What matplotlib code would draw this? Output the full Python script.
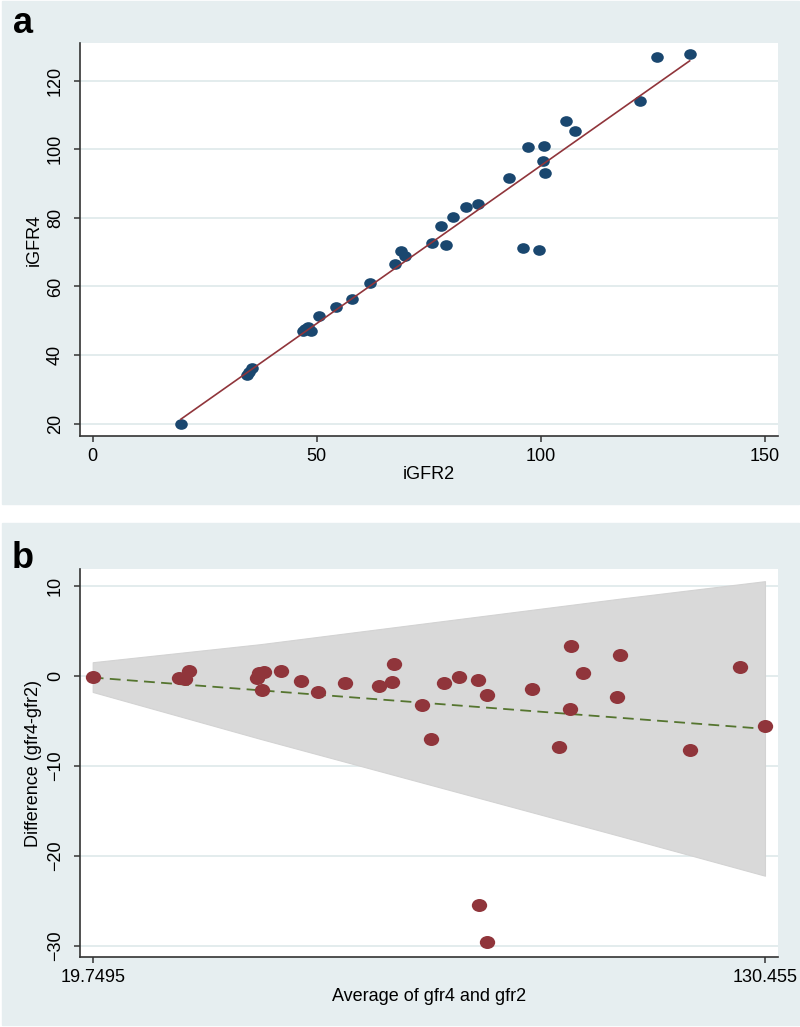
import numpy as np
import matplotlib
matplotlib.use('Agg')
import matplotlib.pyplot as plt
from matplotlib.patches import Rectangle
from matplotlib.path import Path

plt.rcParams['font.family'] = ['Liberation Sans', 'DejaVu Sans']

# panel a: iGFR2 vs iGFR4
igfr2 = [19.7, 34.4, 35.0, 35.5, 46.9, 47.3, 48.1, 48.8, 50.6, 54.4, 57.9,
         61.9, 67.4, 68.7, 69.6, 75.8, 78.9, 77.8, 80.3, 83.3, 85.9, 92.8,
         96.0, 99.5, 97.1, 100.6, 100.4, 100.9, 105.7, 107.6, 122.2, 125.8, 133.2]
igfr4 = [20.0, 34.3, 35.0, 36.3, 46.9, 47.6, 48.3, 47.0, 51.5, 54.1, 56.4,
         61.1, 66.6, 70.3, 69.0, 72.8, 72.1, 77.6, 80.3, 83.3, 84.0, 91.6,
         71.3, 70.5, 100.6, 101.0, 96.7, 93.0, 108.2, 105.4, 114.2, 127.0, 127.8]
fit_x = [19.7, 133.2]
fit_y = [21.3, 125.8]

# panel b: Bland-Altman
avg = [19.75, 33.9, 34.9, 35.6, 46.75, 47.1, 48.0, 47.7, 50.75, 54.0, 56.9,
       61.3, 66.9, 69.1, 69.4, 73.9, 75.4, 77.6, 80.1, 83.25, 84.7, 83.4,
       84.6, 92.05, 96.6, 98.56, 100.5, 98.3, 106.6, 106.1, 118.05, 126.4, 130.4]
diff = [-0.1, -0.3, -0.4, 0.56, -0.3, 0.27, 0.44, -1.6, 0.56, -0.59, -1.85,
        -0.85, -1.14, -0.73, 1.3, -3.26, -7.0, -0.85, -0.14, -0.48, -2.14, -25.4,
        -29.6, -1.44, -7.96, 3.26, 0.26, -3.7, 2.26, -2.33, -8.3, 1.0, -5.6]
trend_x = [19.7495, 130.455]
trend_y = [-0.2, -5.9]
band_x = [19.7495, 47.3, 106.6, 130.455]
band_hi = [1.5, 3.5, 8.56, 10.5]
band_lo = [-1.8, -7.0, -17.8, -22.2]
b_xticks = [19.7495, 130.455]
b_xticklabels = ['19.7495', '130.455']

bg = '#e6eef0'
gridc = '#e0eaec'
navy = '#1a476f'
maroon = '#90353b'
green = '#55752f'

# slightly wide dots like the original
circ = Path.unit_circle()
dot = Path(circ.vertices * [1.18, 1.0], circ.codes)

W, H = 800, 1027
fig = plt.figure(figsize=(W / 100, H / 100), dpi=100)
fig.patch.set_facecolor('white')
fig.patches.append(Rectangle((2 / W, 1 - 504 / H), 797 / W, 503 / H,
                             transform=fig.transFigure, color=bg, zorder=-1))
fig.patches.append(Rectangle((2 / W, 1 - 1025 / H), 797 / W, 502 / H,
                             transform=fig.transFigure, color=bg, zorder=-1))

ax1 = fig.add_axes([80 / W, 1 - 436 / H, 698 / W, 393 / H])
ax2 = fig.add_axes([80 / W, 1 - 957.3 / H, 698 / W, 388.3 / H])

for ax in (ax1, ax2):
    ax.set_facecolor('white')
    for s in ('top', 'right'):
        ax.spines[s].set_visible(False)
    for s in ('left', 'bottom'):
        ax.spines[s].set_color('#333333')
        ax.spines[s].set_linewidth(1.2)
    ax.tick_params(axis='both', direction='out', length=4.5, width=1.1,
                   color='#333333', labelsize=13)
    ax.tick_params(axis='y', pad=7, labelrotation=90)
    ax.tick_params(axis='x', pad=4)
    ax.grid(axis='y', color=gridc, lw=1.3, zorder=0)
    ax.set_axisbelow(True)

# --- panel a
ax1.scatter(igfr2, igfr4, s=82, marker=dot, color=navy, linewidths=0, zorder=3)
ax1.plot(fit_x, fit_y, color=maroon, lw=1.2, zorder=4)
ax1.set_xlim(-2.8, 152.9)
ax1.set_ylim(16.4, 131)
ax1.set_xticks([0, 50, 100, 150])
ax1.set_yticks([20, 40, 60, 80, 100, 120])
ax1.set_xlabel('iGFR2', fontsize=13)
ax1.set_ylabel('iGFR4', fontsize=13)
ax1.xaxis.set_label_coords(0.5, -0.099)
ax1.yaxis.set_label_coords(-0.066, 0.5)

# --- panel b
ax2.fill_between(band_x, band_lo, band_hi, color='#d9d9d9', lw=0.8,
                 edgecolor='#d3d3d3', zorder=1)
ax2.plot(trend_x, trend_y, color=green, lw=1.3, linestyle=(0, (6, 3.5)), zorder=2)
ax2.scatter(avg, diff, s=122, marker=dot, color=maroon, linewidths=0, zorder=3)
ax2.set_xlim(17.66, 132.6)
ax2.set_ylim(-31.26, 11.85)
ax2.set_xticks(b_xticks)
ax2.set_xticklabels(b_xticklabels)
ax2.set_yticks([10, 0, -10, -20, -30])
ax2.set_xlabel('Average of gfr4 and gfr2', fontsize=13)
ax2.set_ylabel('Difference (gfr4-gfr2)', fontsize=13)
ax2.xaxis.set_label_coords(0.5, -0.102)
ax2.yaxis.set_label_coords(-0.067, 0.5)

for ax in (ax1, ax2):
    ax.xaxis.label.set_va('center')
    ax.yaxis.label.set_va('center')
    for lab in ax.get_yticklabels():
        lab.set_va('center')

fig.text(13 / W, 1 - 33 / H, 'a', fontsize=26, fontweight='bold', ha='left', va='baseline')
fig.text(12 / W, 1 - 568 / H, 'b', fontsize=26, fontweight='bold', ha='left', va='baseline')

fig.savefig('out.png', dpi=100, facecolor='white')
